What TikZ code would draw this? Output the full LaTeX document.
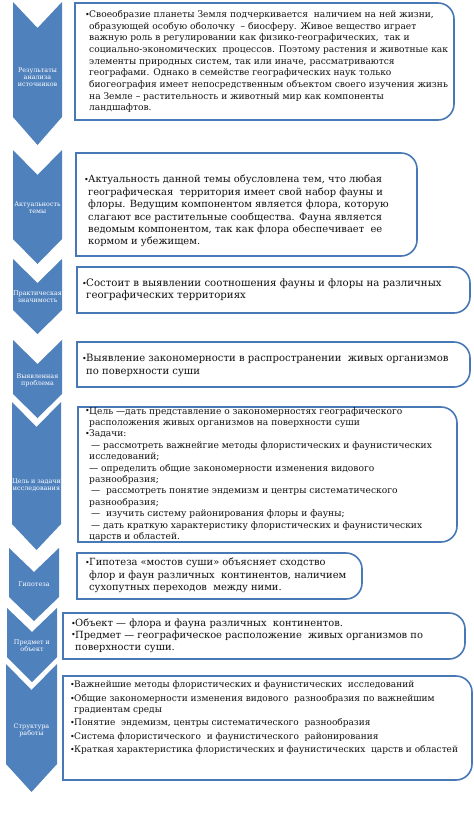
\documentclass[tikz,border=0pt]{standalone}
\usepackage{fontspec}
\setmainfont{DejaVu Serif}
\definecolor{chevblue}{RGB}{79,129,189}
\definecolor{panelblue}{RGB}{72,120,182}
\definecolor{ink}{RGB}{18,18,18}
\newcommand{\rpanel}[4]{%
  \draw[panel] ({(#1+#3)/2},#4) -- (#1,#4) -- (#1,#2) -- ({(#1+#3)/2},#2)
    {[rounded corners=16pt] -- (#3,#2) -- (#3,#4) -- ({(#1+#3)/2},#4)};}
\newcommand{\bul}{\makebox[4pt][l]{\raisebox{0.3pt}{\fontsize{8}{8}\selectfont•}}}
\begin{document}
\begin{tikzpicture}[x=1pt,y=-1pt]
	\tikzset{chev/.style={fill=chevblue},
		panel/.style={draw=panelblue,line width=1.6pt,fill=white},
		lab/.style={text=white,font=\fontsize{6.4}{7.2}\selectfont,align=center,inner sep=0pt},
		txt/.style={anchor=north west,inner sep=0pt,text=ink,font=\fontsize{9.9}{12.4}\selectfont}}
	\useasboundingbox[fill=white] (0,0) rectangle (474,831);

	\fill[chev] (13,2) -- (37.5,28) -- (62,2) -- (62,117) -- (37.5,145) -- (13,117) -- cycle;
	\fill[chev] (13,150) -- (37.5,175) -- (62,150) -- (62,239) -- (37.5,264) -- (13,239) -- cycle;
	\fill[chev] (13,259) -- (37.5,283) -- (62,259) -- (62,310) -- (37.5,334) -- (13,310) -- cycle;
	\fill[chev] (13,340) -- (37.5,364) -- (62,340) -- (62,394) -- (37.5,418) -- (13,394) -- cycle;
	\fill[chev] (12,402) -- (36.5,427) -- (61,402) -- (61,524) -- (36.5,550) -- (12,524) -- cycle;
	\fill[chev] (9,548) -- (34,572) -- (59,548) -- (59,597) -- (34,621) -- (9,597) -- cycle;
	\fill[chev] (7,608) -- (32,632) -- (57,608) -- (57,657) -- (32,682) -- (7,657) -- cycle;
	\fill[chev] (6,664) -- (31.5,690) -- (57,664) -- (57,764) -- (31.5,792) -- (6,764) -- cycle;

	\node[lab] (rez) at (37.5,77) {Результаты\\анализа\\источников};
	\node[lab] (akt) at (37.5,208) {Актуальность\\темы};
	\node[lab] (prak) at (37.5,297) {Практическая\\значимость};
	\node[lab] (probl) at (37.5,380) {Выявленная\\проблема};
	\node[lab] (cel) at (36.5,485) {Цель и задачи\\исследования};
	\node[lab] (gip) at (34,584) {Гипотеза};
	\node[lab] (pred) at (32,646) {Предмет и\\объект};
	\node[lab] (strukt) at (31.5,730) {Структура\\работы};

	\rpanel{75}{3}{454}{120}
	\rpanel{76}{153}{417}{256}
	\rpanel{77}{267}{470}{313}
	\rpanel{77}{342}{470}{387}
	\rpanel{78}{407}{457}{542}
	\rpanel{77}{553}{362}{599}
	\rpanel{63}{613}{465}{659}
	\rpanel{63}{676}{472}{780}

	\node[txt,font=\fontsize{9.1}{11.7}\selectfont] (trez) at (85,9) {\begin{tabular}{@{}l@{}l@{}}
	\bul&Своеобразие планеты Земля подчеркивается ~наличием на ней жизни,\\
	&образующей особую оболочку ~– биосферу. Живое вещество играет\\
	&важную роль в регулировании как физико-географических, ~так и\\
	&социально-экономических ~процессов. Поэтому растения и животные как\\
	&элементы природных систем, так или иначе, рассматриваются\\
	&географами. Однако в семействе географических наук только\\
	&биогеография имеет непосредственным объектом своего изучения жизнь\\
	&на Земле – растительность и животный мир как компоненты\\
	&ландшафтов.
	\end{tabular}};

	\node[txt] (takt) at (84,174) {\begin{tabular}{@{}l@{}l@{}}
	\bul&Актуальность данной темы обусловлена тем, что любая\\
	&географическая ~территория имеет свой набор фауны и\\
	&флоры. Ведущим компонентом является флора, которую\\
	&слагают все растительные сообщества. Фауна является\\
	&ведомым компонентом, так как флора обеспечивает ~ее\\
	&кормом и убежищем.
	\end{tabular}};

	\node[txt,font=\fontsize{10.2}{12}\selectfont] (tprak) at (82,278) {\begin{tabular}{@{}l@{}l@{}}
	\bul&Состоит в выявлении соотношения фауны и флоры на различных\\
	&географических территориях
	\end{tabular}};

	\node[txt,font=\fontsize{10.05}{12.5}\selectfont] (tprobl) at (82,353) {\begin{tabular}{@{}l@{}l@{}}
	\bul&Выявление закономерности в распространении ~живых организмов\\
	&по поверхности суши
	\end{tabular}};

	\node[txt,font=\fontsize{9.1}{11.4}\selectfont] (tcel) at (85,406) {\begin{tabular}{@{}l@{}l@{}}
	\bul&Цель —дать представление о закономерностях географического\\
	&расположения живых организмов на поверхности суши\\
	\bul&Задачи:\\
	&\hspace{2pt}— рассмотреть важнейгие методы флористических и фаунистических\\
	&исследований;\\
	&— определить общие закономерности изменения видового\\
	&разнообразия;\\
	&\hspace{2pt}— ~рассмотреть понятие эндемизм и центры систематического\\
	&разнообразия;\\
	&\hspace{2pt}— ~изучить систему районирования флоры и фауны;\\
	&\hspace{2pt}— дать краткую характеристику флористических и фаунистических\\
	&царств и областей.
	\end{tabular}};

	\node[txt,font=\fontsize{9.9}{12.5}\selectfont] (tgip) at (85,557) {\begin{tabular}{@{}l@{}l@{}}
	\bul&Гипотеза «мостов суши» объясняет сходство\\
	&флор и фаун различных ~континентов, наличием\\
	&сухопутных переходов ~между ними.
	\end{tabular}};

	\node[txt,font=\fontsize{9.9}{11.8}\selectfont] (tpred) at (71,618) {\begin{tabular}{@{}l@{}l@{}}
	\bul&Объект — флора и фауна различных ~континентов.\\
	\bul&Предмет — географическое расположение ~живых организмов по\\
	&поверхности суши.
	\end{tabular}};

	\node[txt,font=\fontsize{9}{11}\selectfont] (tstrukt) at (70,680) {\begin{tabular}{@{}l@{}l@{}}
	\bul&Важнейшие методы флористических и фаунистических ~исследований\\[2.5pt]
	\bul&Общие закономерности изменения видового ~разнообразия по важнейшим\\
	&градиентам среды\\[2.5pt]
	\bul&Понятие ~эндемизм, центры систематического ~разнообразия\\[2.5pt]
	\bul&Система флористического ~и фаунистического ~районирования\\[2.5pt]
	\bul&Краткая характеристика флористических и фаунистических ~царств и областей
	\end{tabular}};
\end{tikzpicture}
\end{document}
